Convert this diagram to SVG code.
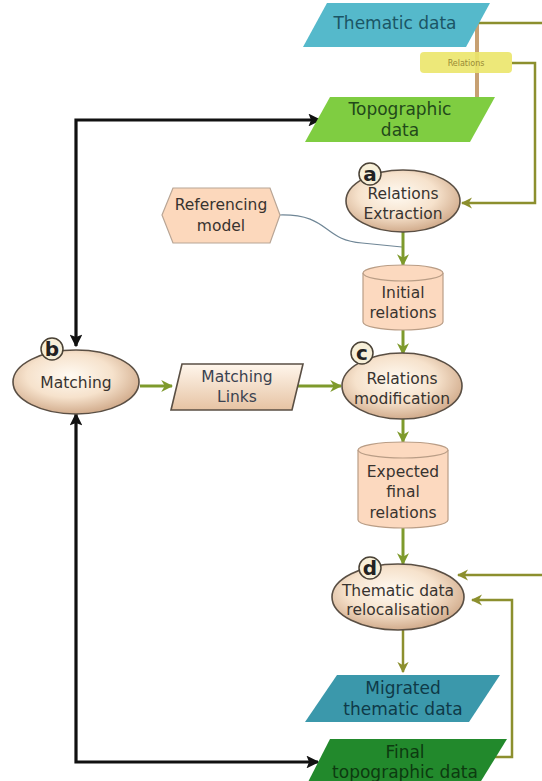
<svg xmlns="http://www.w3.org/2000/svg" width="542" height="781" viewBox="0 0 542 781">
<defs>
<radialGradient id="eg" cx="0.45" cy="0.4" r="0.62">
<stop offset="0" stop-color="#fffaf2"/>
<stop offset="0.55" stop-color="#f6e2cc"/>
<stop offset="1" stop-color="#cfa888"/>
</radialGradient>
<linearGradient id="pg" x1="0" y1="0" x2="0" y2="1">
<stop offset="0" stop-color="#fff6ec"/>
<stop offset="1" stop-color="#e6c3a3"/>
</linearGradient>
<marker id="ag" viewBox="0 0 10 10" refX="9" refY="5" markerWidth="4" markerHeight="4" orient="auto-start-reverse" markerUnits="strokeWidth">
<path d="M0,0 L10,5 L0,10 L3,5 Z" fill="#7e9a2c"/>
</marker>
<marker id="ao" viewBox="0 0 10 10" refX="9" refY="5" markerWidth="4.5" markerHeight="4.5" orient="auto-start-reverse" markerUnits="strokeWidth">
<path d="M0,0 L10,5 L0,10 L3,5 Z" fill="#8c8f2e"/>
</marker>
<marker id="ab" viewBox="0 0 10 10" refX="9" refY="5" markerWidth="4" markerHeight="4" orient="auto-start-reverse" markerUnits="strokeWidth">
<path d="M0,0 L10,5 L0,10 L2,5 Z" fill="#111"/>
</marker>
</defs>
<style>
text{font-family:"DejaVu Sans","Liberation Sans",sans-serif;text-anchor:middle}
.t{font-size:15.5px;fill:#38332f}
.p{font-size:17px}
.ell{fill:url(#eg);stroke:#5a4f44;stroke-width:1.6}
.cyl{fill:#fcd9bf;stroke:#b99d86;stroke-width:1.2}
.lab{fill:#f7efd8;stroke:#4a4236;stroke-width:1.5}
.lt{font-size:20px;font-weight:bold;fill:#222}
.g{fill:none;stroke:#7e9a2c;stroke-width:3}
.o{fill:none;stroke:#8c8f2e;stroke-width:2.5}
.k{fill:none;stroke:#111;stroke-width:3.2}
</style>

<g id="connectors">
<path class="k" d="M76,346 V120 H320" marker-start="url(#ab)" marker-end="url(#ab)"/>
<path class="k" d="M76,414 V762 H318" marker-start="url(#ab)" marker-end="url(#ab)"/>
<line x1="477" y1="20" x2="477" y2="98" stroke="#c7a072" stroke-width="4"/>
<path class="o" d="M479,23 H542"/>
<path class="o" d="M512,63 H535 V203 H462" marker-end="url(#ao)"/>
<path class="o" d="M542,575 H458" marker-end="url(#ao)"/>
<path class="o" d="M478,757 H512 V600 H472" marker-end="url(#ao)"/>
<path d="M280,215 C330,214 322,240 362,243 L402,247" fill="none" stroke="#6f8696" stroke-width="1.2"/>
<path class="g" d="M403,232 V265" marker-end="url(#ag)"/>
<path class="g" d="M403,330 V354" marker-end="url(#ag)"/>
<path class="g" d="M140,386 H172" marker-end="url(#ag)"/>
<path class="g" d="M298,386 H341" marker-end="url(#ag)"/>
<path class="g" d="M403,419 V442" marker-end="url(#ag)"/>
<path class="g" d="M403,528 V564" marker-end="url(#ag)"/>
<path class="o" d="M403,630 V672" marker-end="url(#ao)"/>
</g>

<g id="thematic-data">
<polygon points="327,3 490,3 466,47 303,47" fill="#55b9cb"/>
<text class="p" x="395" y="29" style="fill:#1b5565">Thematic data</text>
</g>

<g id="relations-label">
<rect x="420" y="52" width="92" height="21" rx="4" fill="#ebe66a" opacity="0.9"/>
<text x="466" y="66" style="font-size:8px;fill:#998a35">Relations</text>
</g>

<g id="topographic-data">
<polygon points="330,97 495,97 470,142 305,142" fill="#7fcd41"/>
<text class="p" x="400" y="115" style="fill:#22491a">Topographic</text>
<text class="p" x="400" y="136" style="fill:#22491a">data</text>
</g>

<g id="relations-extraction">
<ellipse class="ell" cx="403" cy="201" rx="57" ry="31"/>
<text class="t" x="403" y="199">Relations</text>
<text class="t" x="403" y="219">Extraction</text>
<circle class="lab" cx="370" cy="174" r="11"/>
<text class="lt" x="370" y="181">a</text>
</g>

<g id="referencing-model">
<polygon points="162,215 173,188 270,188 280,215 270,243 173,243" fill="#fcd8bc" stroke="#b8a595" stroke-width="1.2"/>
<text class="t" x="221" y="210">Referencing</text>
<text class="t" x="221" y="231">model</text>
</g>

<g id="initial-relations">
<path class="cyl" d="M363,273 A40,8 0 0 1 443,273 V322 A40,8 0 0 1 363,322 Z"/>
<path class="cyl" d="M363,273 A40,8 0 0 0 443,273" fill="none"/>
<text class="t" x="403" y="298">Initial</text>
<text class="t" x="403" y="318">relations</text>
</g>

<g id="matching">
<ellipse class="ell" cx="76" cy="382" rx="63" ry="32"/>
<text class="t" x="76" y="388">Matching</text>
<circle class="lab" cx="52" cy="349" r="11"/>
<text class="lt" x="52" y="356">b</text>
</g>

<g id="matching-links">
<polygon points="182,364 303,364 292,410 171,410" fill="url(#pg)" stroke="#5a4f44" stroke-width="1.6"/>
<text class="t" x="237" y="382" style="fill:#3a4250">Matching</text>
<text class="t" x="237" y="402" style="fill:#3a4250">Links</text>
</g>

<g id="relations-modification">
<ellipse class="ell" cx="402" cy="386" rx="60" ry="33"/>
<text class="t" x="402" y="384">Relations</text>
<text class="t" x="402" y="404">modification</text>
<circle class="lab" cx="362" cy="353" r="11"/>
<text class="lt" x="362" y="360">c</text>
</g>

<g id="expected-final-relations">
<path class="cyl" d="M358,450 A45,8 0 0 1 448,450 V520 A45,8 0 0 1 358,520 Z"/>
<path class="cyl" d="M358,450 A45,8 0 0 0 448,450" fill="none"/>
<text class="t" x="403" y="477">Expected</text>
<text class="t" x="403" y="497">final</text>
<text class="t" x="403" y="518">relations</text>
</g>

<g id="thematic-relocalisation">
<ellipse class="ell" cx="398" cy="597" rx="66" ry="33"/>
<text class="t" x="398" y="596">Thematic data</text>
<text class="t" x="398" y="615">relocalisation</text>
<circle class="lab" cx="370" cy="568" r="11"/>
<text class="lt" x="370" y="575">d</text>
</g>

<g id="migrated-thematic-data">
<polygon points="337,675 500,675 469,722 305,722" fill="#3b98ab"/>
<text class="p" x="403" y="694" style="fill:#0f3a48">Migrated</text>
<text class="p" x="403" y="715" style="fill:#0f3a48">thematic data</text>
</g>

<g id="final-topographic-data">
<polygon points="330,739 507,739 478,786 306,786" fill="#22892c"/>
<text class="p" x="405" y="758" style="fill:#0d3a10">Final</text>
<text class="p" x="405" y="778" style="fill:#0d3a10">topographic data</text>
</g>
</svg>
